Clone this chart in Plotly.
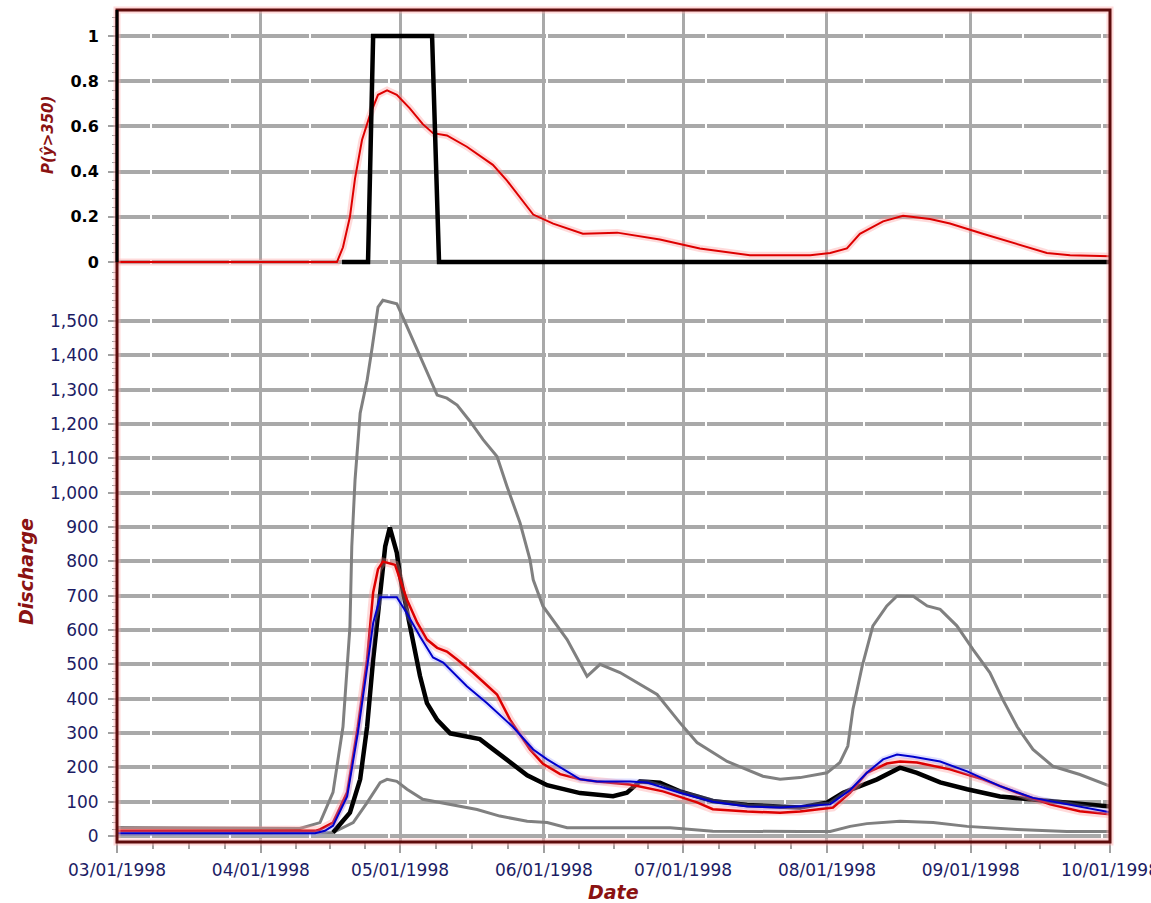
import pandas as pd
import plotly.graph_objects as go

START = pd.Timestamp("1998-03-01")

# ---- discharge series (x = days since 1998-03-01) ----
upper_day = [0, 39.4, 43.75, 46.55, 48.7, 50.2, 50.6, 51.3, 52.4, 53.9, 55.0, 56.25, 57.3, 60.3,
             61.6, 64.7, 66.8, 69.0, 71.1, 73.3, 76.1, 78.9, 81.9, 84.05, 86.85, 89.0, 89.7, 91.8,
             97.0, 101.3, 104.1, 108.4, 116.4, 121.3, 125.0, 131.5, 139.2, 142.9, 147.2, 153.0,
             155.8, 157.5, 158.6, 160.6, 162.9, 165.9, 168.1, 171.6, 174.6, 177.4, 181.0, 184.5,
             188.1, 190.9, 194.0, 197.4, 201.7, 207.5, 214]
upper_val = [25, 22, 39, 127, 318, 609, 843, 1037, 1231, 1327, 1423, 1540, 1560, 1550,
             1511, 1415, 1348, 1284, 1275, 1255, 1207, 1154, 1105, 1018, 912, 805, 746, 669,
             572, 465, 500, 476, 412, 330, 272, 217, 174, 165, 170, 184,
             214, 262, 369, 495, 612, 670, 699, 698, 670, 660, 612, 543,
             476, 397, 318, 252, 203, 179, 145]

lower_day = [0, 43.75, 46.55, 50.9, 53.9, 56.7, 58.2, 60.3, 62.5, 65.9, 71.8, 77.6, 82.5, 88.4,
             92.7, 97.0, 119.2, 128.4, 147.2, 153.7, 158.0, 161.6, 168.75, 175.9, 183.2, 194.0,
             204.7, 214]
lower_val = [5, 8, 10, 39, 97, 155, 165, 159, 136, 107, 92, 77, 58, 43,
             39, 24, 24, 14, 13, 13, 28, 36, 43, 39, 28, 19,
             13, 13]

obs_day = [46.55, 50.2, 52.4, 53.9, 55.2, 56.7, 57.8, 58.8, 60.3, 61.0, 62.5, 63.8, 65.3, 66.8,
           69.0, 71.8, 75.4, 78.2, 81.0, 84.7, 88.4, 92.7, 99.8, 106.9, 109.9, 112.7, 117.0,
           121.3, 128.4, 135.8, 142.9, 147.2, 153.0, 156.5, 160.1, 163.8, 168.75, 172.4, 177.4,
           183.2, 190.3, 197.4, 204.7, 214]
obs_val = [10, 68, 165, 318, 514, 709, 843, 898, 825, 756, 660, 564, 466, 387,
           338, 299, 290, 282, 253, 215, 177, 148, 125, 116, 126, 159, 155,
           130, 102, 90, 86, 83, 97, 126, 145, 165, 199, 184, 156,
           136, 115, 106, 97, 86]

red_day = [0, 42.7, 43.75, 46.55, 49.6, 51.9, 53.9, 55.2, 56.25, 57.3, 59.9, 61.0, 62.5, 64.7,
           66.8, 69.0, 71.1, 73.3, 76.7, 81.9, 84.7, 89.0, 91.8, 95.5, 99.8, 103.4, 110.6, 117.7,
           125.0, 128.4, 135.8, 142.9, 147.2, 154.3, 158.0, 161.6, 165.9, 168.75, 172.4, 179.5,
           186.6, 194.0, 201.1, 207.5, 214]
red_val = [15, 15, 19, 39, 127, 318, 514, 709, 777, 799, 790, 746, 688, 621,
           572, 548, 537, 514, 476, 412, 339, 252, 210, 180, 165, 159, 150, 130,
           98, 78, 71, 68, 71, 83, 126, 184, 211, 217, 214, 194,
           165, 126, 92, 72, 63]

blue_day = [0, 42.7, 44.8, 46.55, 49.6, 51.9, 53.9, 55.2, 56.7, 60.3, 62.5, 65.3, 68.1, 70.3,
            75.4, 79.7, 85.3, 89.7, 92.7, 99.8, 103.4, 110.6, 114.2, 121.3, 128.4, 135.8, 142.9,
            147.2, 153.7, 158.0, 161.6, 165.1, 168.1, 171.6, 177.4, 183.2, 190.3, 197.4, 204.7, 214]
blue_val = [8, 8, 15, 30, 115, 300, 490, 620, 695, 695, 648, 581, 520, 505,
            436, 387, 318, 252, 223, 165, 159, 159, 156, 126, 100, 86, 83,
            86, 92, 134, 184, 223, 237, 231, 217, 188, 145, 111, 92, 69]

# ---- exceedance probability series ----
prob_day = [0, 47.4, 48.7, 50.2, 51.3, 52.8, 54.5, 56.25, 58.2, 60.3, 63.1, 65.9, 68.1, 71.1,
            75.4, 81.0, 84.05, 89.7, 94.0, 100.4, 107.8, 117.0, 125.6, 136.4, 149.4, 153.7,
            157.3, 160.1, 165.1, 169.4, 175.2, 179.5, 186.6, 194.0, 200.4, 205.4, 214]
prob_val = [0, 0, 0.065, 0.2, 0.37, 0.54, 0.65, 0.74, 0.76, 0.74, 0.68, 0.61, 0.57, 0.56,
            0.51, 0.43, 0.36, 0.21, 0.17, 0.125, 0.13, 0.10, 0.06, 0.03, 0.03, 0.04,
            0.06, 0.125, 0.18, 0.205, 0.19, 0.17, 0.125, 0.08, 0.04, 0.03, 0.025]

exceed_day = [48.5, 54.1, 55.2, 67.9, 69.4, 214]
exceed_val = [0, 0, 1, 1, 0, 0]

disch_ticks = list(range(0, 1501, 100))
prob_ticks = [0, 0.2, 0.4, 0.6, 0.8, 1.0]
prob_ticktext = ["0", "0.2", "0.4", "0.6", "0.8", "1"]
month_starts = ["1998-03-01", "1998-04-01", "1998-05-01", "1998-06-01",
                "1998-07-01", "1998-08-01", "1998-09-01", "1998-10-01"]


def to_dates(days):
    return list((START + pd.to_timedelta(days, unit="D")).strftime("%Y-%m-%d %H:%M"))


# quarter-month minor ticks on the date axis
ms = pd.to_datetime(month_starts)
minor_x = []
for a, b in zip(ms[:-1], ms[1:]):
    for q in (1, 2, 3):
        minor_x.append((a + (b - a) * q / 4).strftime("%Y-%m-%d %H:%M"))


def grid_dash(first=33, period=79.25, gap=2, n=13, total=1000):
    parts, pos = [], 0
    for k in range(n):
        g = round(first + period * k)
        parts += [g - pos, gap]
        pos = g + gap
    parts.append(total - pos)
    return ",".join(f"{p}px" for p in parts)


GRID = "#a9a9a9"
NAVY = "#1c1c64"
DARKRED = "#8a1212"
FRAME = "#5e0c0c"
FONT = "DejaVu Sans"
DASH = grid_dash()

fig = go.Figure()


def line(days, vals, color, width, xa="x", ya="y"):
    fig.add_trace(go.Scatter(x=to_dates(days), y=vals, mode="lines", xaxis=xa, yaxis=ya,
                             line=dict(color=color, width=width), hoverinfo="skip",
                             showlegend=False))


# lower panel: discharge
line(upper_day, upper_val, "#808080", 3)
line(lower_day, lower_val, "#808080", 3)
line(obs_day, obs_val, "#000000", 4.5)
line(red_day, red_val, "rgba(255,150,150,0.35)", 8)
line(red_day, red_val, "#dd0000", 2.5)
line(blue_day, blue_val, "rgba(150,150,255,0.3)", 6)
line(blue_day, blue_val, "#0000cc", 2)

# upper panel: probability of exceedance
line(prob_day, prob_val, "rgba(255,150,150,0.35)", 7, "x2", "y2")
line(prob_day, prob_val, "#dd0000", 2, "x2", "y2")
line(exceed_day, exceed_val, "#000000", 4.5, "x2", "y2")

SPLIT = 0.6899

fig.update_layout(
    width=1151, height=903,
    margin=dict(l=117, r=41, t=10, b=61, autoexpand=False),
    paper_bgcolor="white", plot_bgcolor="white",
    showlegend=False,
    xaxis=dict(
        type="date", range=["1998-03-01", "1998-10-01"], anchor="y",
        tickmode="array", tickvals=month_starts, tickformat="%m/%d/%Y",
        tickfont=dict(family=FONT, size=17, color=NAVY),
        ticks="outside", ticklen=10, tickwidth=2, tickcolor="#a0a0a0",
        ticklabelstandoff=3, ticklabeloverflow="allow", automargin=False,
        showgrid=True, gridcolor=GRID, gridwidth=3,
        showline=False, zeroline=False,
        minor=dict(tickmode="array", tickvals=minor_x, ticks="outside", ticklen=6,
                   tickwidth=2, tickcolor="#a0a0a0", showgrid=False),
    ),
    yaxis=dict(
        domain=[0, SPLIT], range=[-17.5, 1654], anchor="x", automargin=False,
        tickmode="array", tickvals=disch_ticks, tickformat=",d",
        tickfont=dict(family=FONT, size=17, color=NAVY),
        ticks="outside", ticklen=8, tickwidth=2, tickcolor="#a0a0a0",
        ticklabelstandoff=6,
        showgrid=True, gridcolor=GRID, gridwidth=4, griddash=DASH,
        showline=False, zeroline=False,
        minor=dict(dtick=20, ticks="outside", ticklen=4, tickwidth=1,
                   tickcolor="#a0a0a0", showgrid=False),
    ),
    xaxis2=dict(
        type="date", matches="x", anchor="y2", showticklabels=False, ticks="",
        tickmode="array", tickvals=month_starts, automargin=False,
        showgrid=True, gridcolor=GRID, gridwidth=3, showline=False, zeroline=False,
    ),
    yaxis2=dict(
        domain=[SPLIT, 1], range=[-0.0265, 1.115], anchor="x2", automargin=False,
        tickmode="array", tickvals=prob_ticks, ticktext=prob_ticktext,
        tickfont=dict(family=FONT, size=16, color="#000000", weight="bold"),
        ticks="outside", ticklen=8, tickwidth=2, tickcolor="#a0a0a0",
        ticklabelstandoff=6,
        showgrid=True, gridcolor=GRID, gridwidth=4, griddash=DASH,
        showline=False, zeroline=False,
        minor=dict(dtick=0.04, ticks="outside", ticklen=4, tickwidth=1,
                   tickcolor="#a0a0a0", showgrid=False),
    ),
)

# chart frame with soft halo, black axis line for the probability panel
fig.add_shape(type="rect", xref="paper", yref="paper", x0=0, x1=1, y0=0, y1=1,
              line=dict(color="rgba(255,170,170,0.45)", width=7), layer="above")
fig.add_shape(type="rect", xref="paper", yref="paper", x0=0, x1=1, y0=0, y1=1,
              line=dict(color=FRAME, width=3), layer="above")
fig.add_shape(type="line", xref="paper", yref="paper", x0=0, x1=0, y0=0.697, y1=1,
              line=dict(color="#000000", width=3), layer="above")

title_font = dict(family=FONT, color=DARKRED, weight="bold", style="italic")
fig.add_annotation(text="P(ŷ>350)", xref="paper", yref="paper", x=-0.0695, y=0.8498,
                   textangle=-90, showarrow=False, xanchor="center", yanchor="middle",
                   font=dict(size=15, **title_font))
fig.add_annotation(text="Discharge", xref="paper", yref="paper", x=-0.0916, y=0.3245,
                   textangle=-90, showarrow=False, xanchor="center", yanchor="middle",
                   font=dict(size=19, **title_font))
fig.add_annotation(text="Date", xref="paper", yref="paper", x=0.4995, y=-0.0601,
                   showarrow=False, xanchor="center", yanchor="middle",
                   font=dict(size=19, **title_font))

fig.write_html("out.html")
